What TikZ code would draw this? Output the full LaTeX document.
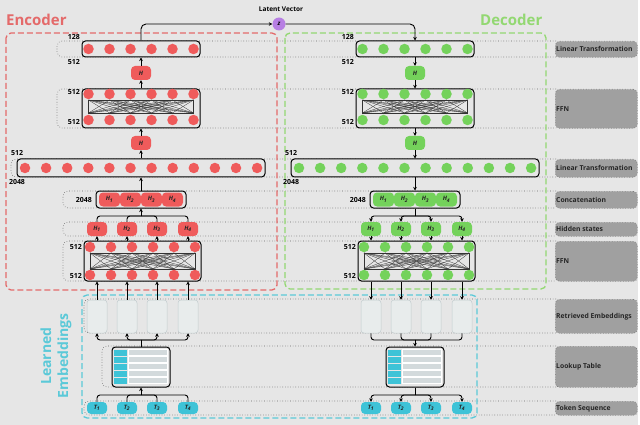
\documentclass[tikz,border=0pt]{standalone}
\usepackage{fontspec}
\setmainfont{Open Sans}
\usetikzlibrary{arrows.meta,calc}
\definecolor{bg}{HTML}{E6E6E6}
\definecolor{encred}{HTML}{EF5B5B}
\definecolor{encdash}{HTML}{E46A6A}
\definecolor{decgreen}{HTML}{74D25B}
\definecolor{decdash}{HTML}{93D872}
\definecolor{embcyan}{HTML}{3EC3D7}
\definecolor{embdash}{HTML}{5BC9D8}
\definecolor{latentc}{HTML}{B77FE3}
\definecolor{lblgray}{HTML}{A0A0A0}
\definecolor{cellgray}{HTML}{D3DADC}
\definecolor{retfill}{HTML}{E8ECEC}
\definecolor{retdraw}{HTML}{C3CDCF}
\tikzset{
  box/.style={draw=black, line width=1pt, rounded corners=3.5pt, fill=bg, inner sep=0pt},
  neuron/.style={circle, minimum size=10.5pt, inner sep=0pt, fill=#1},
  hnode/.style={rounded corners=4pt, fill=#1, minimum width=20pt, minimum height=14pt, inner sep=0pt,
    font=\bfseries\itshape\fontsize{6}{6}\selectfont, text=black!85},
  tok/.style={rounded corners=4pt, fill=embcyan, minimum width=20pt, minimum height=12pt, inner sep=0pt,
    font=\bfseries\itshape\fontsize{6}{6}\selectfont, text=black!85},
  retr/.style={rounded corners=3pt, draw=retdraw, fill=retfill, line width=0.5pt, minimum width=20pt, minimum height=33pt, inner sep=0pt},
  arr/.style={-{Stealth[length=3.5pt,width=3.5pt]}, line width=0.9pt},
  conn/.style={line width=0.9pt},
  band/.style={draw=black!60, dotted, line width=0.6pt, rounded corners=5pt},
  lbl/.style={fill=lblgray, draw=black!55, dotted, line width=0.6pt, rounded corners=4pt, anchor=north west,
    minimum width=82pt, inner sep=0pt},
  lbltxt/.style={anchor=west, inner sep=0pt, font=\bfseries\fontsize{6.8}{7}\selectfont, text=black!85},
  dimlbl/.style={font=\bfseries\fontsize{7}{8}\selectfont, inner sep=0pt},
  mesh/.style={line width=0.3pt, black!80},
}
\newcommand\ffnmesh[4]{% #1 = left x, #2 = top y, #3 = bottom y
  \draw[mesh] (#1,#2) rectangle ({#1+105},#3);
  \foreach \a in {0,...,5}{\foreach \b in {0,...,5}{\ifnum\a=\b\else\draw[mesh] ({#1+21*\a},#2) -- ({#1+21*\b},#3);\fi}}
}
\newcommand\buildcol[3]{%
  % top linear
  \node[box, minimum width=118pt, minimum height=16pt] (#1Top) at (#2,49) {};
  \foreach \k in {0,...,5} \node[neuron=#3] (#1TopN\k) at ({#2-52.5+21*\k},49) {};
  \node[dimlbl, anchor=east] (#1Ltop) at ({#2-61},37) {128};
  \node[dimlbl, anchor=east] (#1Lbot) at ({#2-61},62) {512};
  \node[hnode=#3] (#1Ha) at (#2,73) {H};
  % FFN a
  \node[box, minimum width=118pt, minimum height=39pt] (#1FFNa) at (#2,108.5) {};
  \ffnmesh{#2-52.5}{100}{113}{}
  \foreach \k in {0,...,5} {\node[neuron=#3] (#1FaT\k) at ({#2-52.5+21*\k},94) {};
    \node[neuron=#3] (#1FaB\k) at ({#2-52.5+21*\k},120) {};}
  \node[dimlbl, anchor=east] (#1Lfa1) at ({#2-61},92) {512};
  \node[dimlbl, anchor=east] (#1Lfa2) at ({#2-61},122) {512};
  \node[hnode=#3] (#1Hb) at (#2,143) {H};
  % wide linear
  \node[box, minimum width=248pt, minimum height=18pt] (#1Wide) at (#2,168) {};
  \foreach \k in {0,...,11} \node[neuron=#3] (#1WN\k) at ({#2-116+21.1*\k},168) {};
  \node[dimlbl] (#1Lw1) at ({#2-124},153) {512};
  \node[dimlbl] (#1Lw2) at ({#2-124},182) {2048};
  % concatenation
  \node[box, minimum width=90pt, minimum height=17pt] (#1Cat) at (#2,199.5) {};
  \foreach \k/\n in {0/1,1/2,2/3,3/4} \node[hnode=#3, minimum width=21pt] (#1CatH\n) at ({#2-31.5+21*\k},199.5) {H\textsubscript{\n}};
  \node[dimlbl, anchor=east] (#1Lcat) at ({#2-49},199.5) {2048};
  % hidden states
  \foreach \n/\o in {1/-44,2/-14,3/16,4/47} \node[hnode=#3] (#1Hs\n) at ({#2+\o},229) {H\textsubscript{\n}};
  % FFN b
  \node[box, minimum width=117pt, minimum height=40pt] (#1FFNb) at ({#2+1.5},261) {};
  \ffnmesh{#2-51}{253}{269}{}
  \foreach \k in {0,...,5} {\node[neuron=#3] (#1FbT\k) at ({#2-51+21*\k},247) {};
    \node[neuron=#3] (#1FbB\k) at ({#2-51+21*\k},275) {};}
  \node[dimlbl, anchor=east] (#1Lfb1) at ({#2-59},247) {512};
  \node[dimlbl, anchor=east] (#1Lfb2) at ({#2-59},276) {512};
  % retrieved embeddings
  \foreach \n/\o in {1/-44,2/-14,3/16,4/47} \node[retr] (#1Ret\n) at ({#2+\o},316.5) {};
  % lookup table
  \node[box, minimum width=58pt, minimum height=40pt] (#1LUT) at (#2,367) {};
  \foreach \r in {0,...,4} {
    \fill[embcyan] ({#2-27},{349.5+7*\r}) rectangle ({#2-14},{355.5+7*\r});
    \draw[white, fill=cellgray, line width=0.6pt] ({#2-13},{349.5+7*\r}) rectangle ({#2+26},{355.5+7*\r});
  }
  % tokens
  \foreach \n/\o in {1/-44,2/-14,3/16,4/47} \node[tok] (#1T\n) at ({#2+\o},408) {T\textsubscript{\n}};
  % junctions
  \coordinate (#1Jh) at (#2,216);
  \coordinate (#1Jr) at (#2,340);
  \coordinate (#1Jt) at (#2,395);
}
\begin{document}
\begin{tikzpicture}[x=1pt,y=-1pt]
\useasboundingbox (0,0) rectangle (640,425);
\fill[bg] (0,0) rectangle (640,425);
\fill[white] (638,0) rectangle (640,425);
% bands
\foreach \x/\ya/\yb in {57/41/57, 57/89/128, 11/159/177, 63/191/208, 63/222/236, 63/241/281, 84/299/333, 102/346/387, 84/401/415}
  \draw[band] (556,\ya) -- (\x,\ya) -- (\x,\yb) -- (556,\yb);
% right labels
\node[lbl, minimum height=16pt] (lab1) at (555,41) {};
\node[lbltxt] (lab1t) at ([xshift=1pt]lab1.west) {Linear Transformation};
\node[lbl, minimum height=39pt] (lab2) at (555,89) {};
\node[lbltxt] (lab2t) at ([xshift=1pt]lab2.west) {FFN};
\node[lbl, minimum height=18pt] (lab3) at (555,159) {};
\node[lbltxt] (lab3t) at ([xshift=1pt]lab3.west) {Linear Transformation};
\node[lbl, minimum height=17pt] (lab4) at (555,191) {};
\node[lbltxt] (lab4t) at ([xshift=1pt]lab4.west) {Concatenation};
\node[lbl, minimum height=14pt] (lab5) at (555,222) {};
\node[lbltxt] (lab5t) at ([xshift=1pt]lab5.west) {Hidden states};
\node[lbl, minimum height=40pt] (lab6) at (555,241) {};
\node[lbltxt] (lab6t) at ([xshift=1pt]lab6.west) {FFN};
\node[lbl, minimum height=34pt] (lab7) at (555,299) {};
\node[lbltxt] (lab7t) at ([xshift=1pt]lab7.west) {Retrieved Embeddings};
\node[lbl, minimum height=41pt] (lab8) at (555,346) {};
\node[lbltxt] (lab8t) at ([xshift=1pt]lab8.west) {Lookup Table};
\node[lbl, minimum height=14pt] (lab9) at (555,401) {};
\node[lbltxt] (lab9t) at ([xshift=1pt]lab9.west) {Token Sequence};
% containers
\draw[encdash, line width=1.3pt, dash pattern=on 6pt off 3pt, rounded corners=5pt] (6,33) rectangle (277,290);
\draw[decdash, line width=1.3pt, dash pattern=on 6pt off 3pt, rounded corners=5pt] (285,33) rectangle (546,289);
\draw[embdash, line width=1.3pt, dash pattern=on 6pt off 3pt, rounded corners=5pt] (82,295) rectangle (477,418);
\node[text=encdash, font=\bfseries\fontsize{15}{16}\selectfont, anchor=west, inner sep=0pt] (enctitle) at (6,20) {Encoder};
\node[text=decdash, font=\bfseries\fontsize{15}{16}\selectfont, anchor=west, inner sep=0pt] (dectitle) at (480,20) {Decoder};
\node[text=embdash, font=\bfseries\fontsize{14}{17}\selectfont, rotate=90, align=center, inner sep=0pt] (embtitle) at (56,356) {Learned\\Embeddings};
% columns
\buildcol{enc}{141}{encred}
\buildcol{dec}{415}{decgreen}
% latent
\node[circle, fill=latentc, minimum size=13pt, inner sep=0pt, font=\bfseries\itshape\fontsize{6}{6}\selectfont] (latent) at (279,24) {z};
\node[font=\bfseries\fontsize{6.5}{7}\selectfont, inner sep=0pt] (latentlbl) at (281,9) {Latent Vector};
\draw[arr, rounded corners=5pt] (encTop.north) |- (latent.west);
\draw[arr, rounded corners=5pt] (latent.east) -| (decTop.north);
% encoder connectors (upwards)
\draw[arr] (encHa.north) -- (encTop.south);
\draw[arr] (encFFNa.north) -- (encHa.south);
\draw[arr] (encHb.north) -- (encFFNa.south);
\draw[arr] (encWide.north) -- (encHb.south);
\draw[arr] (encCat.north) -- (encWide.south);
\foreach \n in {1,...,4} {
  \draw[conn, rounded corners=3pt] (encHs\n.north) |- (encJh);
  \draw[arr] (encHs\n.south |- encFFNb.north) -- (encHs\n.south);
  \draw[arr] (encRet\n.north) -- (encRet\n.north |- encFFNb.south);
  \draw[arr, rounded corners=3pt] (encJr) -| (encRet\n.south);
  \draw[conn, rounded corners=3pt] (encT\n.north) |- (encJt);
}
\draw[arr] (encJh) -- (encCat.south);
\draw[conn] (encLUT.north) -- (encJr);
\draw[arr] (encJt) -- (encLUT.south);
% decoder connectors (downwards)
\draw[arr] (decTop.south) -- (decHa.north);
\draw[arr] (decHa.south) -- (decFFNa.north);
\draw[arr] (decFFNa.south) -- (decHb.north);
\draw[arr] (decHb.south) -- (decWide.north);
\draw[arr] (decWide.south) -- (decCat.north);
\draw[conn] (decCat.south) -- (decJh);
\foreach \n in {1,...,4} {
  \draw[arr, rounded corners=3pt] (decJh) -| (decHs\n.north);
  \draw[arr] (decHs\n.south) -- (decHs\n.south |- decFFNb.north);
  \draw[arr] (decRet\n.north |- decFFNb.south) -- (decRet\n.north);
  \draw[conn, rounded corners=3pt] (decRet\n.south) |- (decJr);
  \draw[arr, rounded corners=3pt] (decJt) -| (decT\n.north);
}
\draw[arr] (decJr) -- (decLUT.north);
\draw[conn] (decLUT.south) -- (decJt);
\end{tikzpicture}
\end{document}
